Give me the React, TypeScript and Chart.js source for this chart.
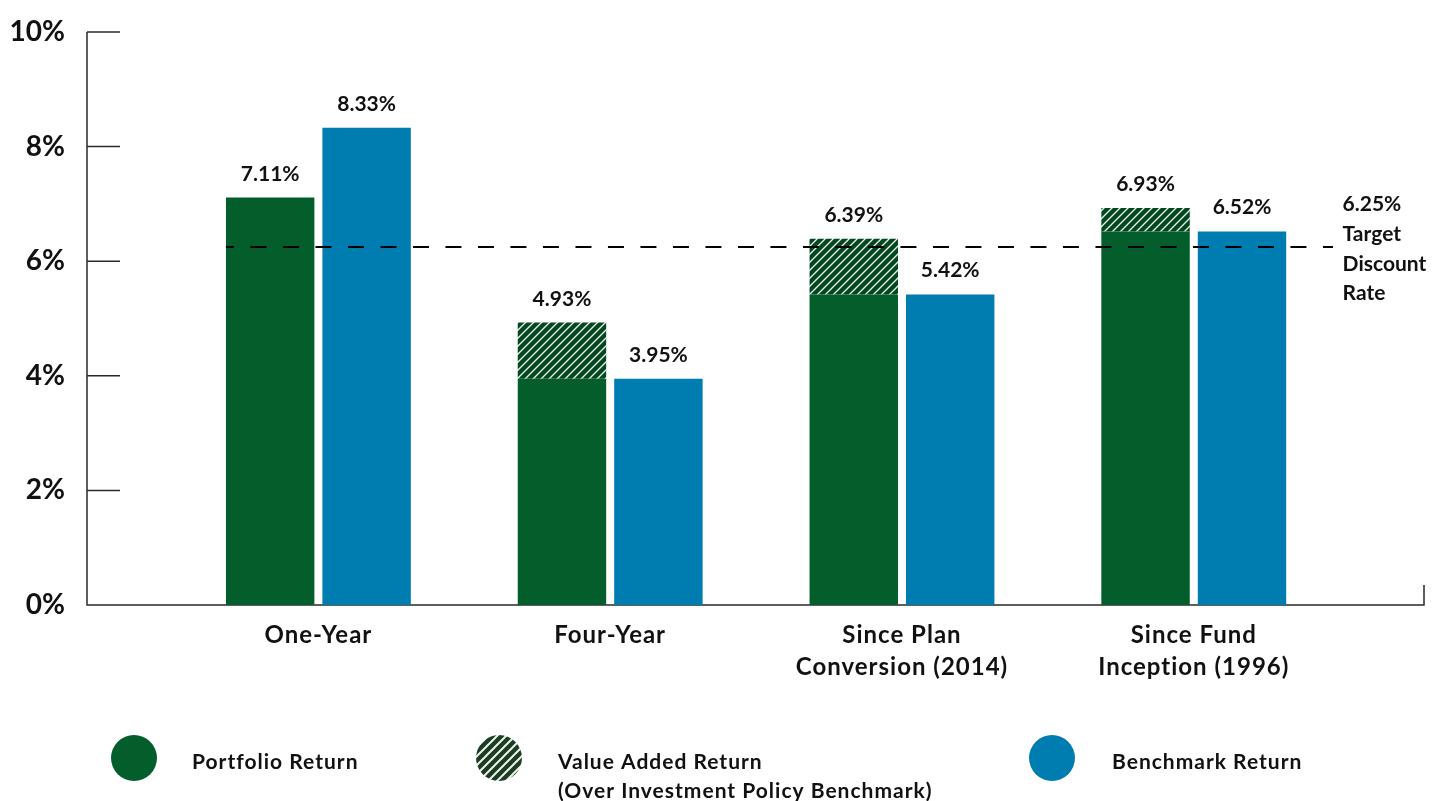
import React, { useEffect, useRef } from "react";
import { Chart, registerables } from "chart.js";

Chart.register(...registerables);

// ---------- data ----------
const categories: string[][] = [
  ["One-Year"],
  ["Four-Year"],
  ["Since Plan", "Conversion (2014)"],
  ["Since Fund", "Inception (1996)"],
];
const positions = [1, 2, 3, 4];
const portfolioReturn = [7.11, 4.93, 6.39, 6.93];
const benchmarkReturn = [8.33, 3.95, 5.42, 6.52];
const portfolioBase = [7.11, 3.95, 5.42, 6.52];
const valueAdded = [0, 0.98, 0.97, 0.41];
const yTicks = [0, 2, 4, 6, 8, 10];
const targetRate = 6.25;
const targetLabel = ["6.25%", "Target", "Discount", "Rate"];
const legendLabels: string[][] = [
  ["Portfolio Return"],
  ["Value Added Return", "(Over Investment Policy Benchmark)"],
  ["Benchmark Return"],
];

// ---------- styles ----------
const GREEN = "#035e2c";
const HATCH_BG = "#02481f";
const BLUE = "#007db0";
const TEXT = "#111111";
const FONT = 'Lato, "DejaVu Sans", sans-serif';

function makeHatch(bg: string, size: number, lw: number): CanvasPattern | string {
  const c = document.createElement("canvas");
  c.width = size;
  c.height = size;
  const g = c.getContext("2d");
  if (!g) return bg;
  g.fillStyle = bg;
  g.fillRect(0, 0, size, size);
  g.strokeStyle = "#f2f2f2";
  g.lineWidth = lw;
  g.beginPath();
  g.moveTo(0, size);
  g.lineTo(size, 0);
  g.moveTo(-size / 2, size / 2);
  g.lineTo(size / 2, -size / 2);
  g.moveTo(size / 2, size * 1.5);
  g.lineTo(size * 1.5, size / 2);
  g.stroke();
  const p = g.createPattern(c, "repeat");
  return p || bg;
}

export default function App() {
  const ref = useRef<HTMLCanvasElement | null>(null);

  useEffect(() => {
    if (!ref.current) return;
    const hatch = makeHatch(HATCH_BG, 8, 1.3);
    const legendHatch = makeHatch("#1b3d21", 9, 2);

    const overlay = {
      id: "overlay",
      beforeDatasetsDraw(chart: any) {
        const { ctx, chartArea: ca, scales } = chart;
        const y = scales.y;
        const x = scales.x;
        ctx.save();
        ctx.strokeStyle = "#2a2a2a";
        ctx.lineWidth = 1.5;
        ctx.beginPath();
        ctx.moveTo(ca.left, ca.top);
        ctx.lineTo(ca.left, ca.bottom);
        ctx.lineTo(ca.right, ca.bottom);
        ctx.lineTo(ca.right, ca.bottom - 20);
        yTicks.forEach((v) => {
          const py = y.getPixelForValue(v);
          ctx.moveTo(ca.left, py);
          ctx.lineTo(ca.left + 33, py);
        });
        ctx.stroke();

        // category labels
        ctx.fillStyle = TEXT;
        ctx.font = `bold 24px ${FONT}`;
        (ctx as any).letterSpacing = "1px";
        ctx.textAlign = "center";
        ctx.textBaseline = "alphabetic";
        positions.forEach((p, i) => {
          const px = x.getPixelForValue(p);
          categories[i].forEach((ln, j) => ctx.fillText(ln, px, ca.bottom + 38 + j * 32));
        });
        (ctx as any).letterSpacing = "0px";
        ctx.restore();
      },
      afterDatasetsDraw(chart: any) {
        const { ctx, scales } = chart;
        const x = scales.x;
        const y = scales.y;
        const m0 = chart.getDatasetMeta(0);
        const m2 = chart.getDatasetMeta(2);
        ctx.save();

        // dashed target line
        const first: any = m0.data[0];
        const x0 = first.x - first.width / 2;
        const x1 = x.getPixelForValue(4.477);
        const ty = y.getPixelForValue(targetRate);
        ctx.strokeStyle = "#000";
        ctx.lineWidth = 2;
        ctx.setLineDash([16, 16.5]);
        ctx.lineDashOffset = 8;
        ctx.beginPath();
        ctx.moveTo(x0, ty);
        ctx.lineTo(x1, ty);
        ctx.stroke();
        ctx.setLineDash([]);

        // value labels
        ctx.fillStyle = TEXT;
        ctx.font = `bold 21px ${FONT}`;
        ctx.textAlign = "center";
        ctx.textBaseline = "alphabetic";
        positions.forEach((_, i) => {
          const g: any = m0.data[i];
          const b: any = m2.data[i];
          ctx.fillText(
            portfolioReturn[i].toFixed(2) + "%",
            g.x,
            y.getPixelForValue(portfolioReturn[i]) - 17
          );
          ctx.fillText(
            benchmarkReturn[i].toFixed(2) + "%",
            b.x,
            y.getPixelForValue(benchmarkReturn[i]) - 17
          );
        });

        // target label
        ctx.textAlign = "left";
        const lx = x.getPixelForValue(4.51);
        const baselines = [211, 241, 270.5, 300];
        targetLabel.forEach((t, i) => ctx.fillText(t, lx, baselines[i]));

        // legend
        const cx = [134, 499, 1052];
        const cy = 758;
        const fills = [GREEN, legendHatch, BLUE];
        cx.forEach((c, i) => {
          ctx.beginPath();
          ctx.arc(c, cy, 23, 0, Math.PI * 2);
          ctx.fillStyle = fills[i] as any;
          ctx.fill();
        });
        ctx.fillStyle = TEXT;
        ctx.font = `bold 21px ${FONT}`;
        (ctx as any).letterSpacing = "1px";
        const tx = [192, 558, 1112];
        legendLabels.forEach((lines, i) => {
          lines.forEach((ln, j) => ctx.fillText(ln, tx[i], 769 + j * 29));
        });
        (ctx as any).letterSpacing = "0px";

        ctx.restore();
      },
    };

    const chart = new Chart(ref.current, {
      type: "bar",
      data: {
        labels: positions as any,
        datasets: [
          {
            label: "Portfolio Return",
            data: portfolioBase,
            backgroundColor: GREEN,
            stack: "portfolio",
          },
          {
            label: "Value Added Return",
            data: valueAdded,
            backgroundColor: hatch as any,
            stack: "portfolio",
          },
          {
            label: "Benchmark Return",
            data: benchmarkReturn,
            backgroundColor: BLUE,
            stack: "benchmark",
          },
        ],
      },
      options: {
        responsive: false,
        animation: false,
        layout: { padding: { top: 32, right: 10, left: 0, bottom: 0 } },
        plugins: { legend: { display: false }, tooltip: { enabled: false } },
        datasets: { bar: { categoryPercentage: 0.661, barPercentage: 0.917 } } as any,
        scales: {
          x: {
            type: "linear",
            min: 0.207,
            max: 4.789,
            offset: false,
            bounds: "data",
            grid: { display: false, drawTicks: false, offset: false },
            border: { display: false },
            afterBuildTicks: (s: any) => {
              s.ticks = positions.map((v) => ({ value: v }));
            },
            afterFit: (s: any) => {
              s.height = 196;
              s.paddingLeft = 0;
              s.paddingRight = 0;
            },
            ticks: { display: false },
          },
          y: {
            min: 0,
            max: 10,
            stacked: true,
            bounds: "data",
            grid: { display: false, drawTicks: false },
            border: { display: false },
            afterFit: (s: any) => {
              s.width = 87;
              s.paddingTop = 0;
              s.paddingBottom = 0;
            },
            afterBuildTicks: (s: any) => {
              s.ticks = yTicks.map((v) => ({ value: v }));
            },
            ticks: {
              padding: 22,
              color: TEXT,
              font: { family: FONT, weight: "bold", size: 28 },
              callback: (v: any) => v + "%",
            },
          },
        },
      },
      plugins: [overlay],
    });
    return () => chart.destroy();
  }, []);

  return (
    <div style={{ position: "absolute", left: 0, top: 0, width: 1434, height: 801, background: "#fff" }}>
      <canvas ref={ref} width={1434} height={801} style={{ display: "block" }} />
    </div>
  );
}
